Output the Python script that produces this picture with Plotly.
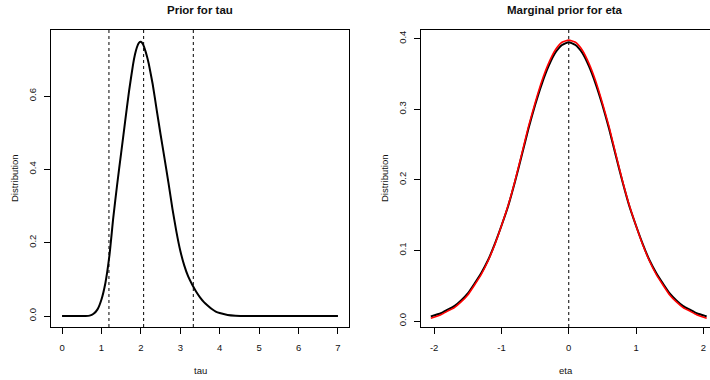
import plotly.graph_objects as go

# ---- data ----
tau = [0.0, 0.3, 0.6, 0.7, 0.8, 0.9, 1.0, 1.1, 1.2, 1.3, 1.4, 1.5, 1.6, 1.7, 1.8, 1.85,
       1.9, 1.95, 2.0, 2.05, 2.1, 2.15, 2.2, 2.3, 2.4, 2.5, 2.6, 2.7, 2.8, 2.9, 3.0, 3.1,
       3.2, 3.3, 3.4, 3.5, 3.6, 3.7, 3.8, 3.9, 4.0, 4.2, 4.4, 4.7, 5.5, 7.0]
tau_density = [0, 0, 0, 0.001, 0.006, 0.018, 0.045, 0.09, 0.163, 0.268, 0.36, 0.445,
               0.53, 0.613, 0.685, 0.713, 0.733, 0.745, 0.748, 0.742, 0.728, 0.71, 0.688,
               0.632, 0.563, 0.495, 0.43, 0.363, 0.293, 0.231, 0.178, 0.138, 0.108, 0.086,
               0.067, 0.051, 0.038, 0.028, 0.019, 0.012, 0.008, 0.003, 0.001, 0, 0, 0]
tau_vlines = [1.19, 2.07, 3.33]

eta_half = [-2.05, -1.9, -1.8, -1.7, -1.6, -1.5, -1.4, -1.3, -1.2, -1.1, -1.0, -0.9,
            -0.8, -0.7, -0.6, -0.5, -0.4, -0.3, -0.2, -0.1]
eta = eta_half + [0.0] + [-v for v in reversed(eta_half)]
black_half = [0.0065, 0.011, 0.016, 0.021, 0.029, 0.039, 0.053, 0.068, 0.086, 0.109,
              0.135, 0.163, 0.197, 0.234, 0.272, 0.306, 0.336, 0.361, 0.380, 0.391]
black_peak = 0.395
red_half = [0.004, 0.009, 0.014, 0.019, 0.027, 0.037, 0.051, 0.066, 0.085, 0.108,
            0.135, 0.164, 0.198, 0.236, 0.275, 0.309, 0.340, 0.365, 0.384, 0.395]
red_peak = 0.398
eta_marginal = black_half + [black_peak] + list(reversed(black_half))
eta_normal = red_half + [red_peak] + list(reversed(red_half))
eta_vlines = [0.0]

x_ticks_left = [0, 1, 2, 3, 4, 5, 6, 7]
y_ticks_left = [0.0, 0.2, 0.4, 0.6]
x_ticks_right = [-2, -1, 0, 1, 2]
y_ticks_right = [0.0, 0.1, 0.2, 0.3, 0.4]

FONT = "Liberation Sans, Arial, sans-serif"
TXT = "#111111"

fig = go.Figure()
fig.add_trace(go.Scatter(x=tau, y=tau_density, mode="lines",
                         line=dict(color="black", width=2, shape="spline", smoothing=0.5),
                         xaxis="x", yaxis="y", hoverinfo="skip"))
fig.add_trace(go.Scatter(x=eta, y=eta_marginal, mode="lines",
                         line=dict(color="black", width=2, shape="spline", smoothing=0.5),
                         xaxis="x2", yaxis="y2", hoverinfo="skip"))
fig.add_trace(go.Scatter(x=eta, y=eta_normal, mode="lines",
                         line=dict(color="red", width=1.6, shape="spline", smoothing=0.5),
                         xaxis="x2", yaxis="y2", hoverinfo="skip"))

shapes = []
for v in tau_vlines:
    shapes.append(dict(type="line", xref="x", yref="y domain", x0=v, x1=v, y0=0, y1=1,
                       line=dict(color="black", width=1, dash="3px,3px")))
for v in eta_vlines:
    shapes.append(dict(type="line", xref="x2", yref="y2 domain", x0=v, x1=v, y0=0, y1=1,
                       line=dict(color="black", width=1, dash="3px,3px")))

ax_common = dict(showgrid=False, zeroline=False, showline=True, linecolor="black",
                 linewidth=1, ticks="outside", ticklen=6, tickcolor="black",
                 tickfont=dict(family=FONT, size=9.5, color=TXT))

y_dom = [1 - 327 / 380, 1 - 30 / 380]

fig.update_layout(
    width=710, height=380,
    margin=dict(l=0, r=0, t=0, b=0),
    paper_bgcolor="white", plot_bgcolor="white",
    showlegend=False,
    shapes=shapes,
    xaxis=dict(ax_common, domain=[51 / 710, 349 / 710], range=[-0.28, 7.28],
               tickvals=x_ticks_left, ticktext=[str(v) for v in x_ticks_left],
               mirror=True, anchor="y", ticklabelstandoff=6),
    yaxis=dict(ax_common, domain=y_dom, range=[-0.030, 0.78], tickvals=y_ticks_left,
               ticktext=[f"{v:.1f}" for v in y_ticks_left], tickangle=-90,
               mirror=True, anchor="x", ticklabelstandoff=4),
    xaxis2=dict(ax_common, domain=[420.7 / 710, 1.0], range=[-2.2, 2.099],
                tickvals=x_ticks_right, ticktext=[str(v) for v in x_ticks_right],
                mirror=True, anchor="y2", ticklabelstandoff=6),
    yaxis2=dict(ax_common, domain=y_dom, range=[-0.0085, 0.4123], tickvals=y_ticks_right,
                ticktext=[f"{v:.1f}" for v in y_ticks_right], tickangle=-90,
                mirror=False, anchor="x2", ticklabelstandoff=4),
    annotations=[
        dict(text="<b>Prior for tau</b>", x=200 / 710, y=1 - 10 / 380, xref="paper",
             yref="paper", showarrow=False, xanchor="center", yanchor="middle",
             font=dict(family=FONT, size=11.5, color=TXT)),
        dict(text="<b>Marginal prior for eta</b>", x=565 / 710, y=1 - 10 / 380,
             xref="paper", yref="paper", showarrow=False, xanchor="center",
             yanchor="middle", font=dict(family=FONT, size=11.5, color=TXT)),
        dict(text="tau", x=200 / 710, y=1 - 370 / 380, xref="paper", yref="paper",
             showarrow=False, xanchor="center", yanchor="middle",
             font=dict(family=FONT, size=9.5, color=TXT)),
        dict(text="eta", x=566 / 710, y=1 - 370 / 380, xref="paper", yref="paper",
             showarrow=False, xanchor="center", yanchor="middle",
             font=dict(family=FONT, size=9.5, color=TXT)),
        dict(text="Distribution", x=14 / 710, y=1 - 178 / 380, xref="paper",
             yref="paper", showarrow=False, xanchor="center", yanchor="middle",
             textangle=-90, font=dict(family=FONT, size=9.5, color=TXT)),
        dict(text="Distribution", x=384 / 710, y=1 - 178 / 380, xref="paper",
             yref="paper", showarrow=False, xanchor="center", yanchor="middle",
             textangle=-90, font=dict(family=FONT, size=9.5, color=TXT)),
    ],
)

fig.write_html("out.html",
               config={"displayModeBar": False, "staticPlot": True},
               post_script="document.body.style.margin='0';"
                           "document.body.style.overflow='hidden';")
